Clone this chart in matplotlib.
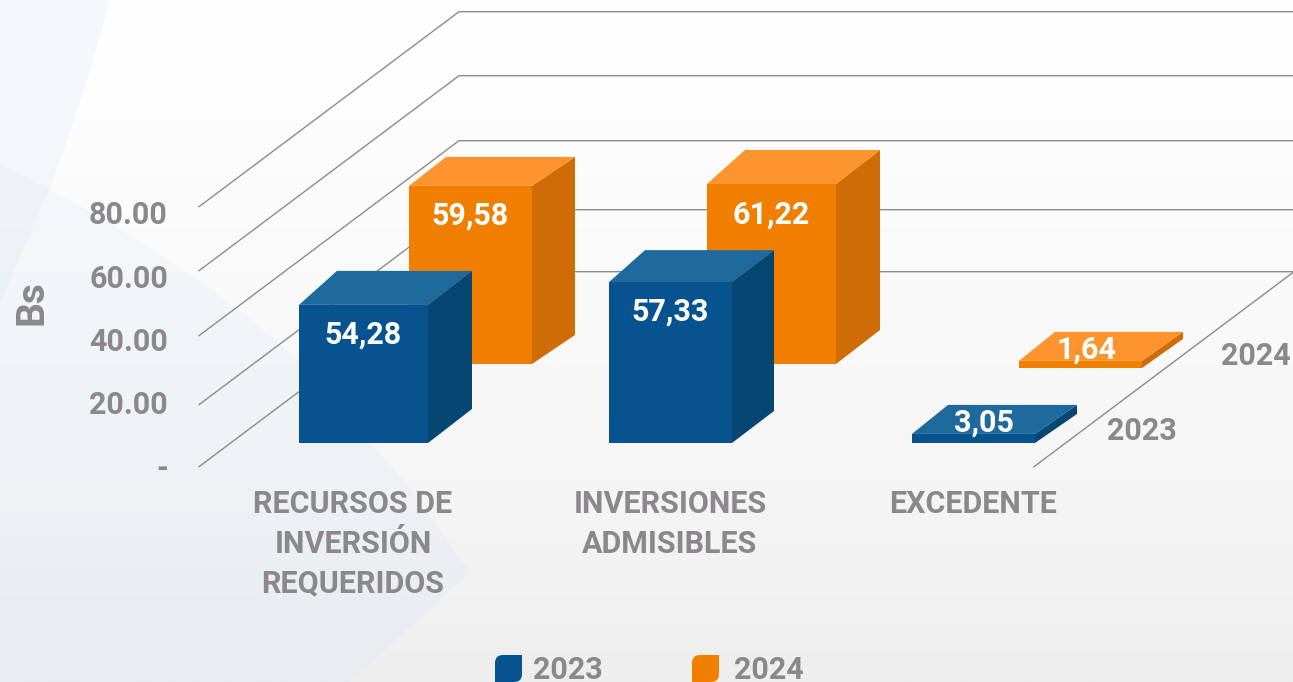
import numpy as np
import matplotlib
matplotlib.use("Agg")
import matplotlib.pyplot as plt
from matplotlib.path import Path
from matplotlib.patches import PathPatch, Polygon
from matplotlib.colors import LinearSegmentedColormap

# ---- data ----
categories = ["RECURSOS DE\nINVERSIÓN\nREQUERIDOS", "INVERSIONES\nADMISIBLES", "EXCEDENTE"]
series_names = ["2023", "2024"]
labels_2023 = ["54,28", "57,33", "3,05"]
labels_2024 = ["59,58", "61,22", "1,64"]
# heights of the drawn bars as read against the picture (the original is not to scale)
drawn_2023 = [42.5, 49.5, 2.8]
drawn_2024 = [54.8, 55.4, 2.2]
axis_levels = [0, 20, 40, 60, 80]
axis_labels = ["-", "20.00", "40.00", "60.00", "80.00"]
y_title = "Bs"

# ---- layout ----
W, H = 1293, 682
GREY = "#8a888a"
FONT = ["Roboto", "DejaVu Sans"]
level_front_px = [466.7, 404.7, 335.7, 270.7, 206.7]
tick_text_px = [466, 402, 339, 276, 212]
WALL_DX, WALL_DY = 260, -195
PX_PER_UNIT = 3.25
front_left = {"2023": [299, 609, 912], "2024": [409, 707, 1019]}
front_right = {"2023": [428, 732, 1035], "2024": [532, 836, 1142]}
base_px = {"2023": [443, 443, 443], "2024": [364, 364, 368]}
depth_l = {"2023": [38, 36, 36], "2024": [37, 38, 36]}
depth_r = {"2023": [44, 42, 42], "2024": [43, 44, 41]}
depth_y = {"2023": [-34, -32, -29], "2024": [-29, -34, -29]}
label_gap = {"2023": [27, 26, -14], "2024": [27, 28, -14]}
label_dx = {"2023": [0, 0, 10], "2024": [0, 0, 6]}
COLORS = {"2023": ("#07538f", "#1e6a9c", "#064672"),
          "2024": ("#f07f00", "#fe942d", "#d06c06")}

fig = plt.figure(figsize=(W / 100, H / 100), dpi=100)
ax = fig.add_axes([0, 0, 1, 1])
ax.set_xlim(0, W)
ax.set_ylim(H, 0)
ax.axis("off")

# background
cmap = LinearSegmentedColormap.from_list("bg", ["#ffffff", "#fbfbfb", "#f6f6f6", "#eeeeee"])
ax.imshow(np.linspace(0, 1, 256)[:, None], extent=(0, W, H, 0), aspect="auto", cmap=cmap, zorder=0)
shape1 = Path([(0, 0), (110, 0), (85, 95), (50, 187), (0, 303), (0, 0)],
              [Path.MOVETO, Path.LINETO, Path.CURVE3, Path.CURVE3, Path.LINETO, Path.CLOSEPOLY])
ax.add_patch(PathPatch(shape1, fc="#cfe3ee", ec="none", alpha=0.2, zorder=1))
shape2 = Path([(0, 165), (50, 187), (200, 267), (300, 363), (403, 480), (470, 572), (350, 682), (0, 682), (0, 165)],
              [Path.MOVETO, Path.CURVE4, Path.CURVE4, Path.CURVE4, Path.LINETO, Path.LINETO, Path.LINETO, Path.LINETO, Path.CLOSEPOLY])
ax.add_patch(PathPatch(shape2, fc="#cfe3ee", ec="none", alpha=0.17, zorder=1))

# walls / grid
for py in level_front_px:
    ax.plot([199, 199 + WALL_DX, W], [py, py + WALL_DY, py + WALL_DY], color="#8c8c8c", lw=1, zorder=2,
            solid_joinstyle="miter")
ax.plot([1034, W], [466.7, 466.7 + WALL_DY * (W - 1034) / WALL_DX], color="#8c8c8c", lw=1, zorder=2)


def bar(left, right, base, height, cols, dl, dr, dy, z):
    top = base - height * PX_PER_UNIT
    front, lid, side = cols
    ax.add_patch(Polygon([(right, base), (right + dr, base + dy), (right + dr, top + dy), (right, top)],
                         fc=side, ec="none", zorder=z))
    ax.add_patch(Polygon([(left, top), (left + dl, top + dy), (right + dr, top + dy), (right, top)],
                         fc=lid, ec="none", zorder=z))
    ax.add_patch(Polygon([(left, base), (right, base), (right, top), (left, top)], fc=front, ec="none", zorder=z))
    return top


for name, drawn, labs, z in (("2024", drawn_2024, labels_2024, 3), ("2023", drawn_2023, labels_2023, 4)):
    for i, (h, lab) in enumerate(zip(drawn, labs)):
        l, r, b = front_left[name][i], front_right[name][i], base_px[name][i]
        top = bar(l, r, b, h, COLORS[name], depth_l[name][i], depth_r[name][i], depth_y[name][i], z)
        ax.text((l + r) / 2 + label_dx[name][i], top + label_gap[name][i], lab, color="white", fontsize=22,
                fontweight="bold", family=FONT, ha="center", va="center_baseline", zorder=6)

# value axis labels
for lab, py in zip(axis_labels, tick_text_px):
    ax.text(168, py, lab, color=GREY, fontsize=22, fontweight="bold", family=FONT, ha="right", va="center_baseline", zorder=5)
ax.text(32, 303, y_title, color=GREY, fontsize=28, fontweight="bold", family=FONT, rotation=90,
        ha="center", va="center", zorder=5)

# category labels
for cat, x in zip(categories, [353, 670, 973]):
    ax.text(x, 489, cat, color=GREY, fontsize=22, fontweight="bold", family=FONT, ha="center", va="top",
            linespacing=1.4, zorder=5)

# depth labels
ax.text(1141.5, 428, series_names[0], color=GREY, fontsize=22, fontweight="bold", family=FONT, ha="center", va="center_baseline", zorder=5)
ax.text(1255.5, 353, series_names[1], color=GREY, fontsize=22, fontweight="bold", family=FONT, ha="center", va="center_baseline", zorder=5)


# legend keys
def key(x0, y0, s, r, color):
    x1, y1 = x0 + s, y0 + s
    verts = [(x0 + r, y0), (x1, y0), (x1, y1 - r), (x1, y1), (x1 - r, y1), (x0, y1), (x0, y0 + r), (x0, y0), (x0 + r, y0), (x0 + r, y0)]
    codes = [Path.MOVETO, Path.LINETO, Path.LINETO, Path.CURVE3, Path.CURVE3, Path.LINETO, Path.LINETO, Path.CURVE3, Path.CURVE3, Path.CLOSEPOLY]
    ax.add_patch(PathPatch(Path(verts, codes), fc=color, ec="none", zorder=5))


for name, kx, tx in zip(series_names, [495, 692], [568, 768.5]):
    key(kx, 655, 27, 8, COLORS[name][0])
    ax.text(tx, 667, name, color=GREY, fontsize=22, fontweight="bold", family=FONT, ha="center", va="center_baseline", zorder=5)

fig.savefig("out.png", dpi=100)
